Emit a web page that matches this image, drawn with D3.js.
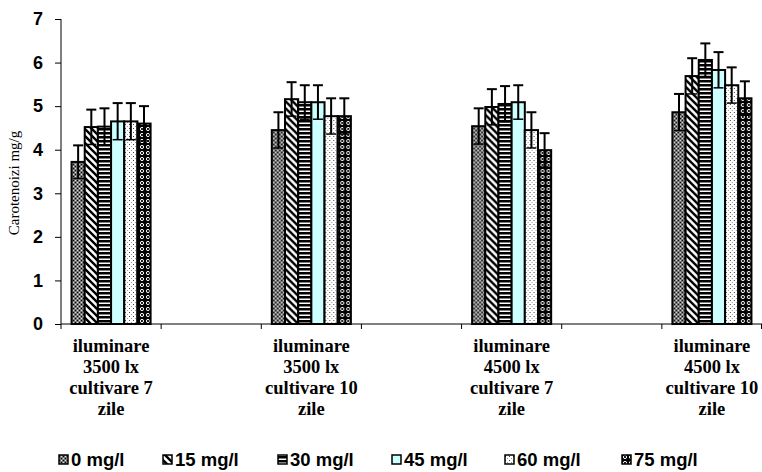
<!doctype html>
<html>
<head>
<meta charset="UTF-8">
<script src="https://d3js.org/d3.v7.min.js"></script>
<style>
body { margin: 0; background: #fff; }
.tick text { font: bold 18px Arial, "Liberation Sans", sans-serif; }
.catlab { font: bold 18.5px "Times New Roman", "Liberation Serif", serif; }
.leg { font: bold 18.5px Arial, "Liberation Sans", sans-serif; }
</style>
</head>
<body>
<script>
// categories (7 slots on the axis, every other one empty)
var slots = ["c1", "e1", "c2", "e2", "c3", "e3", "c4"];
var groups = ["c1", "c2", "c3", "c4"];
var groupLabels = [
  ["iluminare", "3500 lx", "cultivare 7", "zile"],
  ["iluminare", "3500 lx", "cultivare 10", "zile"],
  ["iluminare", "4500 lx", "cultivare 7", "zile"],
  ["iluminare", "4500 lx", "cultivare 10", "zile"]
];
var series = ["0 mg/l", "15 mg/l", "30 mg/l", "45 mg/l", "60 mg/l", "75 mg/l"];

// values per group, one per series
var values = [
  [3.72, 4.52, 4.53, 4.65, 4.65, 4.60],
  [4.45, 5.16, 5.09, 5.09, 4.77, 4.77],
  [4.54, 4.98, 5.05, 5.09, 4.45, 3.99],
  [4.86, 5.69, 6.06, 5.83, 5.48, 5.18]
];
var errors = [
  [0.38, 0.40, 0.42, 0.42, 0.42, 0.40],
  [0.41, 0.39, 0.39, 0.39, 0.41, 0.41],
  [0.41, 0.41, 0.41, 0.39, 0.41, 0.39],
  [0.42, 0.41, 0.38, 0.41, 0.41, 0.39]
];
var yTicks = [0, 1, 2, 3, 4, 5, 6, 7];

var w = 762, h = 472;
var svg = d3.select("body").append("svg").attr("width", w).attr("height", h);

// fill patterns
var defs = svg.append("defs");
var p;
p = defs.append("pattern").attr("id", "p0").attr("patternUnits", "userSpaceOnUse").attr("width", 4).attr("height", 4);
p.append("rect").attr("width", 4).attr("height", 4).attr("fill", "#777");
p.append("rect").attr("width", 1).attr("height", 1).attr("fill", "#000");
p.append("rect").attr("x", 2).attr("y", 2).attr("width", 1).attr("height", 1).attr("fill", "#000");
p.append("rect").attr("x", 2).attr("y", 0).attr("width", 1).attr("height", 1).attr("fill", "#ddd");
p.append("rect").attr("x", 0).attr("y", 2).attr("width", 1).attr("height", 1).attr("fill", "#ddd");

p = defs.append("pattern").attr("id", "p1").attr("patternUnits", "userSpaceOnUse").attr("width", 7).attr("height", 7);
p.append("rect").attr("width", 7).attr("height", 7).attr("fill", "#fff");
p.append("path").attr("d", "M-1,-1 L8,8 M-1,6 L1,8 M6,-1 L8,1").attr("stroke", "#000").attr("stroke-width", 2.4);

p = defs.append("pattern").attr("id", "p2").attr("patternUnits", "userSpaceOnUse").attr("width", 4).attr("height", 4);
p.append("rect").attr("width", 4).attr("height", 4).attr("fill", "#fff");
p.append("rect").attr("width", 4).attr("height", 2.5).attr("fill", "#000");

p = defs.append("pattern").attr("id", "p3").attr("patternUnits", "userSpaceOnUse").attr("width", 4).attr("height", 4);
p.append("rect").attr("width", 4).attr("height", 4).attr("fill", "#ccffff");

p = defs.append("pattern").attr("id", "p4").attr("patternUnits", "userSpaceOnUse").attr("width", 4).attr("height", 4);
p.append("rect").attr("width", 4).attr("height", 4).attr("fill", "#fff");
p.append("rect").attr("width", 1).attr("height", 1).attr("fill", "#444");
p.append("rect").attr("x", 2).attr("y", 2).attr("width", 1).attr("height", 1).attr("fill", "#999");

p = defs.append("pattern").attr("id", "p5").attr("patternUnits", "userSpaceOnUse").attr("width", 6).attr("height", 6);
p.append("rect").attr("width", 6).attr("height", 6).attr("fill", "#000");
p.append("circle").attr("cx", 3).attr("cy", 3).attr("r", 1.6).attr("fill", "none").attr("stroke", "#fff").attr("stroke-width", 1);

var x0 = 61, x1 = 762, y0 = 324, y1 = 19;

var x = d3.scaleBand().domain(slots).range([x0, x1]).padding(0);
var xs = d3.scaleBand().domain(series).range([0, x.bandwidth()]).paddingInner(0).paddingOuter(0.8);
var y = d3.scaleLinear().domain([0, 7]).range([y0, y1]);

// y axis
var yAxis = svg.append("g").attr("transform", "translate(" + x0 + ",0)")
  .call(d3.axisLeft(y).tickValues(yTicks).tickFormat(d3.format("d")).tickSize(6).tickPadding(12));
yAxis.selectAll("path,line").attr("stroke", "#000");
yAxis.select(".domain").attr("d", "M0," + y1 + "V" + y0);

// x axis line with ticks at slot boundaries
svg.append("line").attr("x1", x0).attr("x2", x1).attr("y1", y0).attr("y2", y0).attr("stroke", "#000");
svg.selectAll(".xt").data(slots.concat(["end"])).enter().append("line")
  .attr("x1", function(d, i) { return i < slots.length ? x(d) : x1 - 0.5; })
  .attr("x2", function(d, i) { return i < slots.length ? x(d) : x1 - 0.5; })
  .attr("y1", y0).attr("y2", y0 + 5).attr("stroke", "#000");

// bars
groups.forEach(function(g, gi) {
  var gg = svg.append("g").attr("transform", "translate(" + x(g) + ",0)");
  gg.selectAll("rect").data(series).enter().append("rect")
    .attr("x", function(s) { return xs(s); })
    .attr("y", function(s, si) { return y(values[gi][si]); })
    .attr("width", xs.bandwidth())
    .attr("height", function(s, si) { return y(0) - y(values[gi][si]); })
    .attr("fill", function(s, si) { return "url(#p" + si + ")"; })
    .attr("stroke", "#000").attr("stroke-width", 2);

  series.forEach(function(s, si) {
    var cx = xs(s) + xs.bandwidth() / 2;
    var v = values[gi][si], e = errors[gi][si];
    gg.append("line").attr("x1", cx).attr("x2", cx)
      .attr("y1", y(v - e)).attr("y2", y(v + e)).attr("stroke", "#000").attr("stroke-width", 2);
    gg.append("line").attr("x1", cx - 5).attr("x2", cx + 5)
      .attr("y1", y(v + e)).attr("y2", y(v + e)).attr("stroke", "#000").attr("stroke-width", 2);
    gg.append("line").attr("x1", cx - 5).attr("x2", cx + 5)
      .attr("y1", y(v - e)).attr("y2", y(v - e)).attr("stroke", "#000").attr("stroke-width", 1.5);
  });

  var t = svg.append("text").attr("class", "catlab").attr("text-anchor", "middle")
    .attr("x", x(g) + x.bandwidth() / 2).attr("y", 352);
  groupLabels[gi].forEach(function(l, li) {
    t.append("tspan").attr("x", x(g) + x.bandwidth() / 2).attr("dy", li === 0 ? 0 : 21).text(l);
  });
});

// y label
svg.append("text").attr("transform", "translate(19,183) rotate(-90)")
  .attr("text-anchor", "middle")
  .style("font", "15px 'Times New Roman', 'Liberation Serif', serif")
  .text("Carotenoizi mg/g");

// legend
var legX = [59, 163, 278, 392, 505, 622];
var leg = svg.selectAll(".legi").data(series).enter().append("g")
  .attr("transform", function(d, i) { return "translate(" + legX[i] + ",460)"; });
leg.append("rect").attr("x", 0).attr("y", -5).attr("width", 9).attr("height", 9)
  .attr("fill", function(d, i) { return "url(#p" + i + ")"; })
  .attr("stroke", "#000").attr("stroke-width", 1.5);
leg.append("text").attr("class", "leg").attr("x", 12).attr("y", 6).text(function(d) { return d; });
</script>
</body>
</html>
